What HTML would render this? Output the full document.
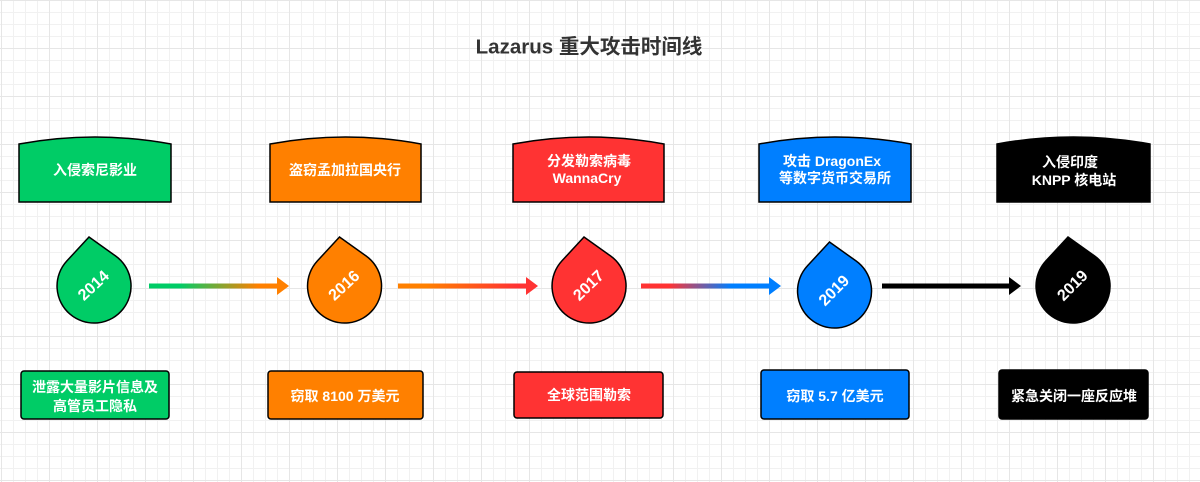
<!DOCTYPE html>
<html>
<head>
<meta charset="utf-8">
<style>
  html, body { margin:0; padding:0; }
  body {
    width:1200px; height:482px; overflow:hidden; background:#ffffff;
    background-image:
      linear-gradient(to right, #e6e6e6 1px, transparent 1px),
      linear-gradient(to bottom, #e6e6e6 1px, transparent 1px),
      linear-gradient(to right, #f1f1f1 1px, transparent 1px),
      linear-gradient(to bottom, #f1f1f1 1px, transparent 1px);
    background-size: 48px 48px, 48px 48px, 12px 12px, 12px 12px;
    background-position: 1px 0, 0 0, 1px 0, 0 0;
  }
  svg { position:absolute; left:0; top:0; }
  text { font-family: "Liberation Sans", "Noto Sans CJK SC", sans-serif; font-weight: bold; }
  .w { fill:#ffffff; font-size:14px; }
  .yr { fill:#ffffff; font-size:16px; }
</style>
</head>
<body>
<svg width="1200" height="482" viewBox="0 0 1200 482" xmlns="http://www.w3.org/2000/svg">
  <defs>
    <linearGradient id="g1" gradientUnits="userSpaceOnUse" x1="149" y1="0" x2="289" y2="0">
      <stop offset="0.22" stop-color="#00CC66"/>
      <stop offset="0.78" stop-color="#FF8000"/>
    </linearGradient>
    <linearGradient id="g2" gradientUnits="userSpaceOnUse" x1="398" y1="0" x2="538" y2="0">
      <stop offset="0.2" stop-color="#FF8000"/>
      <stop offset="0.85" stop-color="#FF3333"/>
    </linearGradient>
    <linearGradient id="g3" gradientUnits="userSpaceOnUse" x1="641" y1="0" x2="780" y2="0">
      <stop offset="0.2" stop-color="#FF3333"/>
      <stop offset="0.65" stop-color="#007FFF"/>
    </linearGradient>
    <path id="drop" d="M -5 -49 L -27.1 -25.1 A 37 37 0 1 0 21.5 -30.1 Z"/>
  </defs>

  <!-- Title -->
  <text x="589" y="47" text-anchor="middle" dominant-baseline="central" style="font-size:20.5px; fill:#333333;">Lazarus 重大攻击时间线</text>

  <!-- Top boxes -->
  <path d="M19 202 L19 144 Q95 130 171 144 L171 202 Z" fill="#00CC66" stroke="#000" stroke-width="1.5"/>
  <path d="M270 202 L270 144 Q345.5 130 421 144 L421 202 Z" fill="#FF8000" stroke="#000" stroke-width="1.5"/>
  <path d="M513 202 L513 144 Q588.5 130 664 144 L664 202 Z" fill="#FF3333" stroke="#000" stroke-width="1.5"/>
  <path d="M759 202 L759 144 Q835 130 911 144 L911 202 Z" fill="#007FFF" stroke="#000" stroke-width="1.5"/>
  <path d="M997 202 L997 144 Q1073.5 130 1150 144 L1150 202 Z" fill="#000000" stroke="#000" stroke-width="1.5"/>

  <text class="w" x="95" y="170" text-anchor="middle" dominant-baseline="central">入侵索尼影业</text>
  <text class="w" x="345" y="170" text-anchor="middle" dominant-baseline="central">盗窃孟加拉国央行</text>
  <text class="w" x="589" y="161" text-anchor="middle" dominant-baseline="central">分发勒索病毒</text>
  <text class="w" x="587" y="178" text-anchor="middle" dominant-baseline="central">WannaCry</text>
  <text class="w" x="832" y="161" text-anchor="middle" dominant-baseline="central">攻击 DragonEx</text>
  <text class="w" x="835" y="178" text-anchor="middle" dominant-baseline="central">等数字货币交易所</text>
  <text class="w" x="1070" y="162" text-anchor="middle" dominant-baseline="central">入侵印度</text>
  <text class="w" x="1074" y="180" text-anchor="middle" dominant-baseline="central">KNPP 核电站</text>

  <!-- Arrows -->
  <line x1="149" y1="286" x2="279" y2="286" stroke="url(#g1)" stroke-width="5"/>
  <polygon points="277,277 289,286 277,295" fill="#FF8000"/>
  <line x1="398" y1="286" x2="528" y2="286" stroke="url(#g2)" stroke-width="5"/>
  <polygon points="526,277 538,286 526,295" fill="#FF3333"/>
  <line x1="641" y1="286" x2="771" y2="286" stroke="url(#g3)" stroke-width="5"/>
  <polygon points="769,277 781,286 769,295" fill="#007FFF"/>
  <line x1="882" y1="286" x2="1011" y2="286" stroke="#000" stroke-width="5"/>
  <polygon points="1009,277 1021,286 1009,295" fill="#000"/>

  <!-- Drops -->
  <g transform="translate(94,286)">
    <use href="#drop" fill="#00CC66" stroke="#000" stroke-width="1.5"/>
    <text class="yr" x="0" y="0" text-anchor="middle" dominant-baseline="central" transform="rotate(-43)">2014</text>
  </g>
  <g transform="translate(344.5,286)">
    <use href="#drop" fill="#FF8000" stroke="#000" stroke-width="1.5"/>
    <text class="yr" x="0" y="0" text-anchor="middle" dominant-baseline="central" transform="rotate(-43)">2016</text>
  </g>
  <g transform="translate(589,286)">
    <use href="#drop" fill="#FF3333" stroke="#000" stroke-width="1.5"/>
    <text class="yr" x="0" y="0" text-anchor="middle" dominant-baseline="central" transform="rotate(-44)">2017</text>
  </g>
  <g transform="translate(834.5,291)">
    <use href="#drop" fill="#007FFF" stroke="#000" stroke-width="1.5"/>
    <text class="yr" x="0" y="0" text-anchor="middle" dominant-baseline="central" transform="rotate(-45)">2019</text>
  </g>
  <g transform="translate(1073,286)">
    <use href="#drop" fill="#000000" stroke="#000" stroke-width="1.5"/>
    <text class="yr" x="0" y="0" text-anchor="middle" dominant-baseline="central" transform="rotate(-45)">2019</text>
  </g>

  <!-- Bottom boxes -->
  <rect x="21" y="371" width="148" height="48" rx="3" fill="#00CC66" stroke="#000" stroke-width="1.5"/>
  <rect x="268" y="371" width="155" height="48" rx="3" fill="#FF8000" stroke="#000" stroke-width="1.5"/>
  <rect x="514" y="372" width="149" height="46" rx="3" fill="#FF3333" stroke="#000" stroke-width="1.5"/>
  <rect x="761" y="370" width="148" height="49" rx="3" fill="#007FFF" stroke="#000" stroke-width="1.5"/>
  <rect x="999" y="370" width="149" height="49" rx="3" fill="#000000" stroke="#000" stroke-width="1.5"/>

  <text class="w" x="95" y="387" text-anchor="middle" dominant-baseline="central">泄露大量影片信息及</text>
  <text class="w" x="95" y="406" text-anchor="middle" dominant-baseline="central">高管员工隐私</text>
  <text class="w" x="345" y="396" text-anchor="middle" dominant-baseline="central">窃取 8100 万美元</text>
  <text class="w" x="589" y="395" text-anchor="middle" dominant-baseline="central">全球范围勒索</text>
  <text class="w" x="835" y="396" text-anchor="middle" dominant-baseline="central">窃取 5.7 亿美元</text>
  <text class="w" x="1074" y="396" text-anchor="middle" dominant-baseline="central">紧急关闭一座反应堆</text>
</svg>
</body>
</html>
